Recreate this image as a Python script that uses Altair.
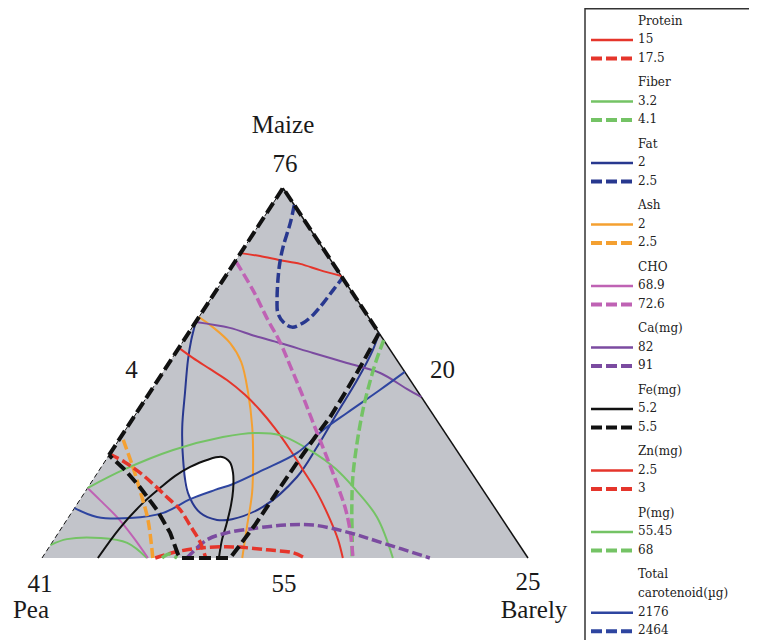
import altair as alt
import pandas as pd

# ---------------- data: mixture compositions in percent (M = Maize, B = Barley; Pea = 100 - M - B) ----------
PROTEIN_15_M = [82.4, 81.6, 80.5, 79.5, 77.8, 76.2]
PROTEIN_15_B = [0.0, 4.4, 9.0, 13.7, 18.6, 23.8]
PROTEIN_17_5_M = [0.0, 1.6, 2.7, 3.0, 2.2, 1.4, 0.0]
PROTEIN_17_5_B = [23.3, 26.6, 31.2, 37.8, 45.2, 51.0, 54.1]

FIBER_3_2_M = [3.5, 5.1, 5.4, 4.1, 0.0]
FIBER_3_2_B = [0.0, 2.6, 9.3, 15.5, 21.6]
FIBER_4_1_M = [58.9, 53.0, 46.8, 40.0, 31.1, 21.9, 13.0, 4.9, 0.0]
FIBER_4_1_B = [41.1, 42.4, 44.1, 46.2, 49.4, 53.1, 57.3, 61.4, 63.8]

FAT_2_M = [63.8, 58.9, 53.5, 44.6, 35.4, 26.5, 17.6, 12.2, 10.3, 10.5, 13.8, 21.9, 30.0, 39.2, 48.1, 56.2, 60.8]
FAT_2_B = [0.0, 1.5, 3.5, 7.3, 11.3, 15.9, 21.3, 26.5, 30.9, 33.9, 38.6, 41.6, 41.7, 41.3, 41.0, 40.2, 39.2]
FAT_2_5_M = [95.4, 90.5, 84.1, 79.7, 75.1, 69.7, 66.2, 63.8, 62.4, 63.5, 65.7, 68.9, 72.4, 75.7]
FAT_2_5_B = [4.6, 6.2, 7.9, 9.4, 11.3, 13.8, 15.7, 18.0, 20.5, 22.2, 23.2, 23.7, 24.0, 24.3]

ASH_2_M = [65.1, 62.4, 58.1, 53.0, 44.6, 35.4, 26.5, 17.6, 8.4, 0.0]
ASH_2_B = [0.0, 4.2, 9.9, 14.7, 20.3, 25.7, 30.3, 34.5, 38.0, 41.2]
ASH_2_5_M = [31.9, 24.6, 18.4, 10.3, 0.0]
ASH_2_5_B = [0.9, 6.5, 11.0, 16.7, 22.8]

CHO_68_9_M = [18.9, 15.7, 11.1, 5.7, 0.0]
CHO_68_9_B = [0.0, 4.1, 9.9, 15.9, 21.8]
CHO_72_6_M = [80.0, 72.4, 64.3, 58.4, 52.2, 46.8, 42.2, 36.5, 30.5, 25.1, 19.2, 13.5, 7.6, 0.0]
CHO_72_6_B = [0.3, 7.5, 14.6, 20.0, 25.1, 29.5, 33.2, 37.7, 42.5, 46.8, 51.4, 55.7, 59.6, 64.0]

CA_82_M = [63.8, 62.2, 60.0, 58.1, 55.4, 52.7, 50.0, 45.7, 43.5]
CA_82_B = [0.0, 7.8, 14.1, 20.2, 28.3, 36.6, 44.8, 52.4, 56.5]
CA_91_M = [0.0, 4.9, 6.8, 8.1, 8.9, 8.9, 7.0, 4.3, 0.0]
CA_91_B = [29.8, 31.5, 34.7, 40.2, 45.6, 51.4, 59.3, 67.4, 79.8]

FE_5_2_M = [0.0, 8.1, 14.9, 18.9, 22.2, 24.6, 26.5, 27.3, 25.9, 23.0, 18.4, 14.3, 8.9, 4.9, 0.0]
FE_5_2_B = [11.5, 12.0, 13.4, 14.9, 16.4, 18.3, 20.8, 23.5, 25.8, 27.9, 30.2, 31.8, 33.5, 34.6, 36.4]
FE_5_5_M = [27.8, 100.0, 60.8, 53.0, 45.4, 38.1, 32.7, 25.7, 17.8, 8.9, 3.5, 0.0, 0.0, 1.1, 6.8, 13.0, 19.2, 23.8, 27.8]
FE_5_5_B = [0.0, 0.0, 39.2, 39.8, 40.2, 40.4, 40.0, 39.7, 39.5, 39.4, 39.0, 38.7, 28.4, 27.4, 23.0, 17.2, 10.6, 5.3, 0.0]

ZN_2_5_M = [56.8, 54.1, 51.1, 48.1, 44.1, 40.0, 35.1, 29.2, 23.8, 17.6, 10.3, 4.9, 0.0]
ZN_2_5_B = [0.0, 4.2, 9.2, 14.2, 19.9, 25.0, 30.5, 36.6, 41.9, 47.9, 54.2, 58.5, 61.9]
ZN_3_M = [28.1, 25.9, 23.0, 19.5, 16.5, 13.0, 8.9, 4.3, 0.0]
ZN_3_B = [0.0, 4.2, 8.8, 13.6, 17.5, 22.0, 26.0, 30.4, 33.7]

P_55_45_M = [18.9, 23.8, 29.2, 32.7, 33.8, 33.2, 28.6, 24.3, 19.2, 11.1, 0.0]
P_55_45_B = [0.0, 4.9, 12.5, 21.0, 27.1, 32.5, 41.6, 48.2, 54.5, 63.4, 72.2]
P_68_M = [0.0, 1.1, 0.0]
P_68_B = [24.7, 25.6, 27.8]

CAROT_2176_M = [13.5, 11.1, 10.8, 12.2, 15.9, 18.4, 20.0, 23.8, 28.4, 34.6, 39.2, 45.4, 50.3]
CAROT_2176_B = [0.0, 5.8, 12.8, 18.9, 22.6, 26.5, 29.4, 33.7, 38.4, 40.7, 43.3, 47.0, 49.7]

# feasible (white) region of the overlay plot
WHITE_M = [23.5, 24.6, 26.5, 27.3, 25.9, 23.0, 20.0, 18.4, 16.5, 15.9, 18.4, 21.1]
WHITE_B = [17.8, 18.3, 20.8, 23.5, 25.8, 27.9, 29.4, 26.5, 23.7, 22.6, 20.5, 18.8]

# triangle vertices: Pea, Maize, Barley
VERT_M = [0.0, 100.0, 0.0]
VERT_B = [0.0, 0.0, 100.0]

# vertex / edge labels
LABEL_TEXT = ["Maize", "76", "4", "20", "41", "Pea", "55", "25", "Barely"]
LABEL_M = [100, 100, 50, 50, 0, 0, 0, 0, 0]
LABEL_B = [0, 0, 0, 50, 0, 0, 50, 100, 100]

# legend
LEG_GROUPS = ["Protein", "Fiber", "Fat", "Ash", "CHO", "Ca(mg)", "Fe(mg)", "Zn(mg)", "P(mg)",
              "Total|carotenoid(µg)"]
LEG_LOW = ["15", "3.2", "2", "2", "68.9", "82", "5.2", "2.5", "55.45", "2176"]
LEG_HIGH = ["17.5", "4.1", "2.5", "2.5", "72.6", "91", "5.5", "3", "68", "2464"]

# ---------------- styles ----------------
RED = "#e5352b"
GREEN = "#74c365"
NAVY = "#28388f"
ORANGE = "#f4a031"
MAGENTA = "#bf62b4"
PURPLE = "#7b4ba0"
BLACK = "#111111"
BLUE = "#2e45a0"
GRAY = "#c2c4ca"
LEG_COLORS = [RED, GREEN, NAVY, ORANGE, MAGENTA, PURPLE, BLACK, RED, GREEN, BLUE]

H = 632
APEX = 0.4959  # horizontal position of apex as share of base
XS = alt.Scale(domain=[0, 100], range=[34, 520], nice=False, zero=False)
YS = alt.Scale(domain=[0, 100], range=[550, 180], nice=False, zero=False)

CURVES = [
    ("Protein 15", PROTEIN_15_M, PROTEIN_15_B, RED, "solid"),
    ("Protein 17.5", PROTEIN_17_5_M, PROTEIN_17_5_B, RED, "dashed"),
    ("Fiber 3.2", FIBER_3_2_M, FIBER_3_2_B, GREEN, "solid"),
    ("Fiber 4.1", FIBER_4_1_M, FIBER_4_1_B, GREEN, "dashed"),
    ("Fat 2", FAT_2_M, FAT_2_B, NAVY, "solid"),
    ("Fat 2.5", FAT_2_5_M, FAT_2_5_B, NAVY, "dashed"),
    ("Ash 2", ASH_2_M, ASH_2_B, ORANGE, "solid"),
    ("Ash 2.5", ASH_2_5_M, ASH_2_5_B, ORANGE, "dashed"),
    ("CHO 68.9", CHO_68_9_M, CHO_68_9_B, MAGENTA, "solid"),
    ("CHO 72.6", CHO_72_6_M, CHO_72_6_B, MAGENTA, "dashed"),
    ("Ca 82", CA_82_M, CA_82_B, PURPLE, "solid"),
    ("Ca 91", CA_91_M, CA_91_B, PURPLE, "dashed"),
    ("Zn 2.5", ZN_2_5_M, ZN_2_5_B, RED, "solid"),
    ("Zn 3", ZN_3_M, ZN_3_B, RED, "dashed"),
    ("P 55.45", P_55_45_M, P_55_45_B, GREEN, "solid"),
    ("P 68", P_68_M, P_68_B, GREEN, "dashed"),
    ("Carotenoid 2176", CAROT_2176_M, CAROT_2176_B, BLUE, "solid"),
    ("Fe 5.2", FE_5_2_M, FE_5_2_B, BLACK, "solid"),
]

rows = []
for name, ms, bs, col, sty in CURVES:
    for i, (m, b) in enumerate(zip(ms, bs)):
        rows.append(dict(curve=name, i=i, M=m, B=b, color=col, style=sty))
curves_df = pd.DataFrame(rows)
fe55_df = pd.DataFrame(dict(i=range(len(FE_5_5_M)), M=FE_5_5_M, B=FE_5_5_B))
white_df = pd.DataFrame(dict(i=range(len(WHITE_M)), M=WHITE_M, B=WHITE_B))
vert_df = pd.DataFrame(dict(i=range(3), M=VERT_M, B=VERT_B))
calc = f"datum.B + {APEX} * datum.M"


def tern(ch):
    return ch.transform_calculate(X=calc).encode(
        x=alt.X("X:Q", scale=XS, axis=None),
        y=alt.Y("M:Q", scale=YS, axis=None),
    )


tri = tern(alt.Chart(vert_df).mark_area(color=GRAY, interpolate="linear")).encode(y2=alt.datum(0))
white = tern(alt.Chart(white_df).mark_line(fill="white", color="white", strokeWidth=0.5,
                                           interpolate="linear")).encode(order="i:Q")
left_edge = tern(alt.Chart(vert_df.iloc[[0, 1]]).mark_line(color=BLACK, strokeWidth=1, strokeDash=[5, 3])).encode(order="i:Q")
right_edge = tern(alt.Chart(vert_df.iloc[[1, 2]]).mark_line(color=BLACK, strokeWidth=1.5)).encode(order="i:Q")

solid = tern(alt.Chart(curves_df).transform_filter(alt.datum.style == "solid").mark_line(
    strokeWidth=2, interpolate="catmull-rom")).encode(
    detail="curve:N", order="i:Q", color=alt.Color("color:N", scale=None))
dashed = tern(alt.Chart(curves_df).transform_filter(alt.datum.style == "dashed").mark_line(
    strokeWidth=3.5, strokeDash=[10, 4], interpolate="catmull-rom")).encode(
    detail="curve:N", order="i:Q", color=alt.Color("color:N", scale=None))
fe55 = tern(alt.Chart(fe55_df).mark_line(color=BLACK, strokeWidth=4, strokeDash=[12, 5],
                                        interpolate="linear")).encode(order="i:Q")

# vertex labels
LABEL_DX = [0, 2, -31, 37, -2, -11, -1, 0, 6]
LABEL_DY = [-55, -16, 5, 5, 34, 60, 34, 32, 60]
label_layers = []
for t, m, b, dx, dy in zip(LABEL_TEXT, LABEL_M, LABEL_B, LABEL_DX, LABEL_DY):
    d = pd.DataFrame(dict(M=[m], B=[b], label=[t]))
    label_layers.append(tern(alt.Chart(d).mark_text(
        font="Liberation Serif", fontSize=25, color="#1a1a1a", align="center",
        baseline="alphabetic", dx=dx, dy=dy)).encode(text="label:N"))

# legend tables
ROW = 18.4
GROUP = 61.5
leg_text, leg_lines = [], []
for g, (title, lo, hi, col) in enumerate(zip(LEG_GROUPS, LEG_LOW, LEG_HIGH, LEG_COLORS)):
    base = g * GROUP / ROW
    parts = title.split("|")
    for k, p in enumerate(parts):
        leg_text.append(dict(slot=base + k * 1.04, label=p))
    off = (len(parts) - 1) * 1.04
    for r, (val, sty) in enumerate([(lo, "solid"), (hi, "dashed")]):
        leg_text.append(dict(slot=base + off + 1 + r, label=val))
        leg_lines.append(dict(slot=base + off + 1 + r + 0.05, color=col, style=sty))
leg_text_df = pd.DataFrame(leg_text)
leg_lines_df = pd.DataFrame(leg_lines)
LYS = alt.Scale(domain=[0, 10], range=[12.8, 12.8 + 10 * ROW], nice=False, zero=False)

leg_txt = alt.Chart(leg_text_df).mark_text(
    font="DejaVu Serif", fontSize=12, color="#222222", align="left", baseline="middle").encode(
    x=alt.value(630), y=alt.Y("slot:Q", scale=LYS, axis=None), text="label:N")
leg_solid = alt.Chart(leg_lines_df).transform_filter(alt.datum.style == "solid").mark_rule(
    strokeWidth=2.5).encode(
    x=alt.value(583), x2=alt.value(625), y=alt.Y("slot:Q", scale=LYS, axis=None),
    color=alt.Color("color:N", scale=None))
leg_dashed = alt.Chart(leg_lines_df).transform_filter(alt.datum.style == "dashed").mark_rule(
    strokeWidth=4, strokeDash=[11, 4]).encode(
    x=alt.value(583), x2=alt.value(625), y=alt.Y("slot:Q", scale=LYS, axis=None),
    color=alt.Color("color:N", scale=None))
one = pd.DataFrame({"k": [0]})
box_left = alt.Chart(one).mark_rule(color="#333333", strokeWidth=1.5).encode(
    x=alt.value(577), y=alt.value(0), y2=alt.value(H))
box_top = alt.Chart(one).mark_rule(color="#333333", strokeWidth=1.5).encode(
    x=alt.value(577), x2=alt.value(741), y=alt.value(0.75))

chart = alt.layer(
    tri, white, left_edge, right_edge, solid, dashed, fe55, *label_layers,
    box_left, box_top, leg_solid, leg_dashed, leg_txt,
).resolve_scale(x="independent", y="independent").properties(
    width=741, height=H, autosize=alt.AutoSizeParams(type="none"), padding=0,
    background="white",
).configure_view(stroke=None)

chart.save("out.html", embed_options={"renderer": "svg", "actions": False})
